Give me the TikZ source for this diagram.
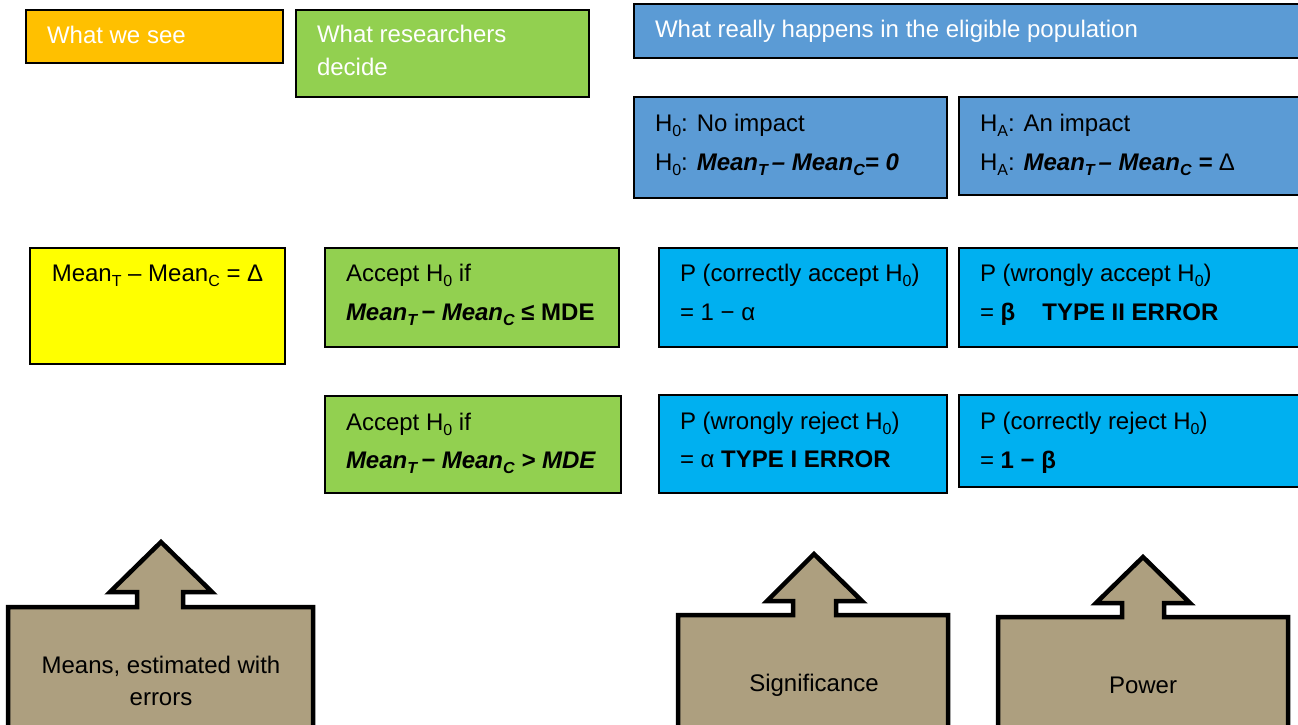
\documentclass[tikz,border=0pt]{standalone}
\usepackage{fontspec}
\setmainfont{Liberation Sans}
\newcommand\sbs[1]{\raisebox{-5.5pt}{\fontsize{16}{16}\selectfont #1}}
\newcommand\bim[1]{\textbf{\textit{#1}}}
\definecolor{cOrange}{HTML}{FFC000}
\definecolor{cGreen}{HTML}{92D050}
\definecolor{cBlue}{HTML}{5B9BD5}
\definecolor{cCyan}{HTML}{00B0F0}
\definecolor{cYellow}{HTML}{FFFF00}
\definecolor{cTan}{HTML}{AD9F7F}
\begin{document}
\begin{tikzpicture}[x=1pt,y=-1pt,
  every node/.style={font=\fontsize{24}{29}\selectfont, inner sep=0pt, outer sep=0pt},
  box/.style={draw=black, line width=2.5pt, anchor=north west},
  txt/.style={anchor=base west, text=black},
  wtxt/.style={anchor=base west, text=white},
  ctxt/.style={anchor=base, text=black},
  callout/.style={draw=black, line width=4.5pt, fill=cTan, line join=miter}]
\useasboundingbox (0,0) rectangle (1298,725);
\begin{scope}
\clip (0,0) rectangle (1298,725);
% header row
\node[box, fill=cOrange, minimum width=257pt, minimum height=53pt] (see) at (26,10) {};
\node[box, fill=cGreen, minimum width=293pt, minimum height=87pt] (decide) at (296,10) {};
\node[box, fill=cBlue, minimum width=680pt, minimum height=54pt] (really) at (634,4) {};
\node[wtxt] (tsee) at (47,44) {What we see};
\node[wtxt] (tdec1) at (317,43) {What researchers};
\node[wtxt] (tdec2) at (317,75) {decide};
\node[wtxt] (treal) at (655,38) {What really happens in the eligible population};
% hypotheses
\node[box, fill=cBlue, minimum width=313pt, minimum height=101pt] (h0) at (634,97) {};
\node[box, fill=cBlue, minimum width=350pt, minimum height=98pt] (ha) at (959,97) {};
\node[txt] (th01) at (655,131) {H\sbs{0}: No impact};
\node[txt] (th02) at (655,170) {H\sbs{0}: \bim{Mean\sbs{T}\,– Mean\sbs{C}= 0}};
\node[txt] (tha1) at (980,131) {H\sbs{A}: An impact};
\node[txt] (tha2) at (980,170) {H\sbs{A}: \bim{Mean\sbs{T}\,– Mean\sbs{C} =} Δ};
% row 1
\node[box, fill=cYellow, minimum width=255pt, minimum height=116pt] (obs) at (30,248) {};
\node[ctxt] (tobs) at (157.5,281) {Mean\sbs{T} – Mean\sbs{C} = Δ};
\node[box, fill=cGreen, minimum width=294pt, minimum height=99pt] (acc1) at (325,248) {};
\node[txt] (tacc1a) at (346,281) {Accept H\sbs{0} if};
\node[txt] (tacc1b) at (346,320) {\bim{Mean\sbs{T}\,− Mean\sbs{C}} \textbf{≤ MDE}};
\node[box, fill=cCyan, minimum width=288pt, minimum height=99pt] (pca) at (659,248) {};
\node[txt] (tpca1) at (680,281) {P (correctly accept H\sbs{0})};
\node[txt] (tpca2) at (680,320) {= 1 − α};
\node[box, fill=cCyan, minimum width=350pt, minimum height=99pt] (pwa) at (959,248) {};
\node[txt] (tpwa1) at (980,281) {P (wrongly accept H\sbs{0})};
\node[txt] (tpwa2) at (980,320) {= \textbf{β\hspace{27pt}TYPE II ERROR}};
% row 2
\node[box, fill=cGreen, minimum width=296pt, minimum height=97pt] (acc2) at (325,396) {};
\node[txt] (tacc2a) at (346,430) {Accept H\sbs{0} if};
\node[txt] (tacc2b) at (346,468) {\bim{Mean\sbs{T}\,− Mean\sbs{C} > MDE}};
\node[box, fill=cCyan, minimum width=288pt, minimum height=98pt] (pwr) at (659,395) {};
\node[txt] (tpwr1) at (680,429) {P (wrongly reject H\sbs{0})};
\node[txt] (tpwr2) at (680,467) {= α \textbf{TYPE I ERROR}};
\node[box, fill=cCyan, minimum width=350pt, minimum height=92pt] (pcr) at (959,395) {};
\node[txt] (tpcr1) at (980,429) {P (correctly reject H\sbs{0})};
\node[txt] (tpcr2) at (980,468) {= \textbf{1 − β}};
% callouts
\path[callout] (8,607) -- (137,607) -- (137,592) -- (110,592) -- (161,542) -- (212,592)
  -- (183,592) -- (183,607) -- (313,607) -- (313,745) -- (8,745) -- cycle;
\node[ctxt] (tmeans1) at (161,673) {Means, estimated with};
\node[ctxt] (tmeans2) at (161,705) {errors};
\path[callout] (678,615) -- (793,615) -- (793,601) -- (767,601) -- (814,554) -- (862,601)
  -- (836,601) -- (836,615) -- (948,615) -- (948,745) -- (678,745) -- cycle;
\node[ctxt] (tsig) at (814,691) {Significance};
\path[callout] (998,617) -- (1122,617) -- (1122,603) -- (1096,603) -- (1143,557) -- (1190,603)
  -- (1164,603) -- (1164,617) -- (1288,617) -- (1288,745) -- (998,745) -- cycle;
\node[ctxt] (tpow) at (1143,693) {Power};
\end{scope}
\end{tikzpicture}
\end{document}
